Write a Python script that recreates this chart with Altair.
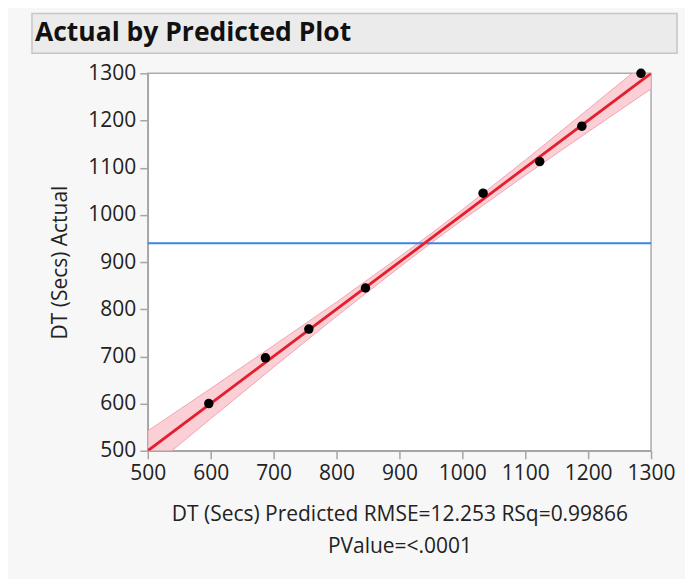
import altair as alt
import pandas as pd

# Observed points (predicted, actual)
pred = [597, 687, 756, 846, 1033, 1123, 1190, 1284]
actual = [600, 697, 758, 845, 1046, 1113, 1188, 1300]

# Fit line end points
fit_x = [500, 1300]
fit_y = [500, 1300]

# Confidence band
band_x = [500, 600, 700, 800, 900, 950, 1000, 1100, 1200, 1300]
band_lo = [458, 568, 677, 785, 889, 940, 989, 1084, 1176, 1267]
band_hi = [542, 632, 723, 815, 911, 960, 1011, 1116, 1224, 1333]

mean_actual = 940
ticks = [500, 600, 700, 800, 900, 1000, 1100, 1200, 1300]

title_text = "Actual by Predicted Plot"
x_title = ["DT (Secs) Predicted RMSE=12.253 RSq=0.99866", "PValue=<.0001"]
y_title = "DT (Secs) Actual"

FONT = "Open Sans"

pts = pd.DataFrame({"pred": pred, "actual": actual})
fit = pd.DataFrame({"pred": fit_x, "actual": fit_y})
band = pd.DataFrame({"pred": band_x, "lo": band_lo, "hi": band_hi})

xs = alt.Scale(domain=[500, 1300], nice=False, zero=False)
ys = alt.Scale(domain=[500, 1300], nice=False, zero=False)

xax = alt.Axis(values=ticks, title=x_title, grid=False, format="d")
yax = alt.Axis(values=ticks, title=y_title, grid=False, format="d")

band_layer = alt.Chart(band).mark_area(color="#f9c3ca", opacity=0.8, clip=True).encode(
    x=alt.X("pred:Q", scale=xs, axis=xax),
    y=alt.Y("lo:Q", scale=ys, axis=yax),
    y2="hi:Q",
)
band_lo_line = alt.Chart(band).mark_line(color="#f4a3ae", strokeWidth=1, clip=True).encode(
    x=alt.X("pred:Q", scale=xs), y=alt.Y("lo:Q", scale=ys)
)
band_hi_line = alt.Chart(band).mark_line(color="#f4a3ae", strokeWidth=1, clip=True).encode(
    x=alt.X("pred:Q", scale=xs), y=alt.Y("hi:Q", scale=ys)
)
fit_layer = alt.Chart(fit).mark_line(color="#e41f2d", strokeWidth=2.8, clip=True).encode(
    x=alt.X("pred:Q", scale=xs), y=alt.Y("actual:Q", scale=ys)
)
mean_layer = alt.Chart(pd.DataFrame({"m": [mean_actual]})).mark_rule(color="#3a86e8", strokeWidth=2).encode(
    y=alt.Y("m:Q", scale=ys)
)
pt_layer = alt.Chart(pts).mark_circle(color="black", opacity=1, size=90).encode(
    x=alt.X("pred:Q", scale=xs), y=alt.Y("actual:Q", scale=ys)
)

title_df = pd.DataFrame({"t": [title_text]})
title_box = alt.Chart(title_df).mark_rect(fill="#ebebeb", stroke="#c6c6c6", strokeWidth=1.5, clip=False).encode(
    x=alt.value(-116), x2=alt.value(530), y=alt.value(-60), y2=alt.value(-20)
)
title_txt = alt.Chart(title_df).mark_text(
    align="left", baseline="middle", font=FONT, fontSize=26.5, fontWeight="bold", color="#111111"
).encode(x=alt.value(-113), y=alt.value(-40), text="t:N")

chart = alt.layer(
    title_box, title_txt, band_layer, band_lo_line, band_hi_line, mean_layer, fit_layer, pt_layer
).properties(
    width=504, height=378,
    autosize=alt.AutoSizeParams(type="none"),
    padding={"left": 140, "top": 65, "right": 34, "bottom": 128},
).configure(
    background="#f7f7f7"
).configure_view(
    fill="white", stroke="#ababab", strokeWidth=1.5
).configure_axis(
    domainColor="#a5a5a5", domainWidth=1.5, tickColor="#a5a5a5", tickWidth=1.5, tickSize=8,
    labelFont=FONT, labelFontSize=21, labelColor="#222222", labelPadding=4,
    titleFont=FONT, titleFontSize=21, titleFontWeight="normal", titleColor="#222222",
    labelOverlap=False, labelFlush=False,
).configure_axisY(titlePadding=17).configure_axisX(titlePadding=20, titleLineHeight=32)

chart.save("out.html", embed_options={"renderer": "svg", "actions": False})
